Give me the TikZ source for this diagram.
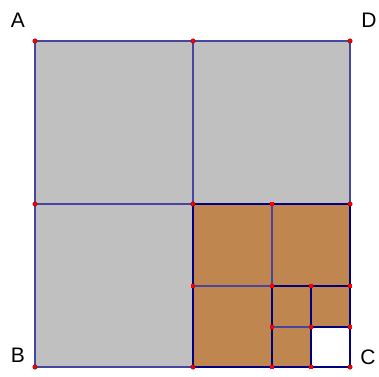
\documentclass[tikz,border=0pt]{standalone}
\usepackage{fontspec}
\setmainfont{Liberation Sans}
\definecolor{squaregray}{RGB}{192,192,192}
\definecolor{squarebrown}{RGB}{192,134,80}
\definecolor{edgeblue}{RGB}{70,70,160}
\definecolor{edgenavy}{RGB}{0,0,128}

\begin{document}
\begin{tikzpicture}[x=1pt, y=-1pt,
    point/.style ={circle, fill=red, draw=red!50!black, line width=0.4pt, inner sep=0pt, minimum size=4.5pt},
    subpoint/.style ={rectangle, fill=red, inner sep=0pt, minimum size=4pt},
    light/.style ={draw=edgeblue, line width=1.1pt},
    heavy/.style ={draw=edgenavy, line width=1.8pt},
    letter/.style ={font=\fontsize{21}{21}\selectfont}]
   \useasboundingbox (0,0) rectangle (379,376);
   % corners and midpoints
   \coordinate (A)  at (35,41);
   \coordinate (D)  at (350,41);
   \coordinate (B)  at (35,367);
   \coordinate (C)  at (350,367);
   \coordinate (Tm) at (193,41);
   \coordinate (Lm) at (35,204);
   \coordinate (Rm) at (350,204);
   \coordinate (Bm) at (193,367);
   \coordinate (O)  at (193,204);
   % subdivision of the lower right square
   \coordinate (P1) at (272,204);
   \coordinate (Q1) at (193,286);
   \coordinate (Q2) at (272,286);
   \coordinate (Q3) at (311,286);
   \coordinate (Q4) at (350,286);
   \coordinate (R2) at (272,327);
   \coordinate (R3) at (311,327);
   \coordinate (R4) at (350,327);
   \coordinate (S2) at (272,367);
   \coordinate (S3) at (311,367);
   % fills
   \fill[squaregray] (A) rectangle (C);
   \fill[squarebrown] (O) rectangle (C);
   \fill[white] (R3) rectangle (C);
   % edges
   \draw[light] (A) -- (Tm) -- (D) -- (Rm);
   \draw[light] (A) -- (Lm) -- (B) -- (Bm);
   \draw[light] (Tm) -- (O);
   \draw[light] (Lm) -- (O);
   \draw[light] (P1) -- (Q2);
   \draw[light] (Q1) -- (Q2);
   \draw[light] (R2) -- (R3);
   \draw[heavy] (O) -- (Rm) -- (C) -- (Bm) -- cycle;
   \draw[heavy] (Q2) -- (S2);
   \draw[heavy] (Q2) -- (Q4);
   \draw[heavy] (Q3) -- (S3);
   \draw[heavy] (R3) -- (R4);
   % points
   \foreach \p in {A,D,B,C,Tm,Lm,Rm,Bm,O}
     \node[point] at (\p) {};
   \foreach \p in {P1,Q1,Q2,Q3,Q4,R2,R3,R4,S2,S3}
     \node[subpoint] at (\p) {};
   % labels
   \node[letter] (labA) at (18,20)  {A};
   \node[letter] (labD) at (369,20) {D};
   \node[letter] (labB) at (18,355) {B};
   \node[letter] (labC) at (368,357) {C};
\end{tikzpicture}
\end{document}
